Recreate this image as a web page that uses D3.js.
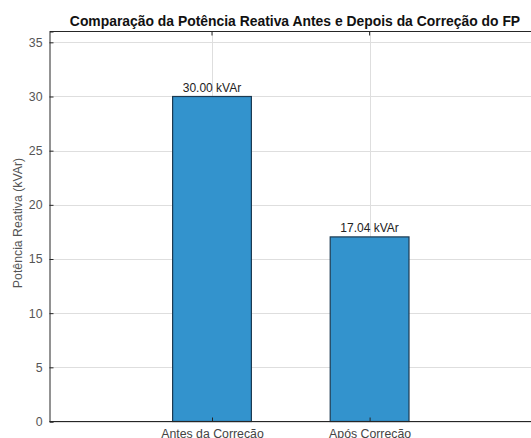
<!DOCTYPE html>
<html><head><meta charset="utf-8">
<script src="https://cdn.jsdelivr.net/npm/d3@7"></script>
<style>body{margin:0;background:#fff;} svg{display:block;}</style>
</head><body>
<script>
const categories = ["Antes da Correção", "Após Correção"];
const values = [30.00, 17.04];
const yTicks = [0, 5, 10, 15, 20, 25, 30, 35];
const title = "Comparação da Potência Reativa Antes e Depois da Correção do FP";
const yLabel = "Potência Reativa (kVAr)";

const W = 531, H = 438;
const svg = d3.select("body").append("svg").attr("width", W).attr("height", H);
const pLeft = 49.5, pTop = 31.5, pBottom = 421.5;
const x = d3.scaleLinear().domain([1, 2]).range([212, 369.6]);
const y = d3.scaleLinear().domain([0, 36]).range([pBottom, pTop]);
const font = "Liberation Sans, Arial, sans-serif";

// grid
svg.append("g").selectAll("line").data(yTicks).join("line")
  .attr("x1", pLeft).attr("x2", W).attr("y1", d => Math.round(y(d)) + 0.5).attr("y2", d => Math.round(y(d)) + 0.5)
  .attr("stroke", "#dedede").attr("stroke-width", 1);
svg.append("g").selectAll("line").data(categories).join("line")
  .attr("x1", (d, i) => Math.round(x(i + 1)) + 0.5).attr("x2", (d, i) => Math.round(x(i + 1)) + 0.5)
  .attr("y1", pTop).attr("y2", pBottom)
  .attr("stroke", "#dedede").attr("stroke-width", 1);

// bars
const bw = x(1.25) - x(0.75);
svg.append("g").selectAll("rect").data(values).join("rect")
  .attr("x", (d, i) => x(i + 1) - bw / 2)
  .attr("y", d => y(d))
  .attr("width", bw)
  .attr("height", d => pBottom - y(d))
  .attr("fill", "#3393cd").attr("stroke", "#1c3a52").attr("stroke-width", 1.2);

// axes
const yAxis = d3.axisLeft(y).tickValues(yTicks).tickSize(-4).tickPadding(7).tickFormat(d3.format("d"));
const gy = svg.append("g").attr("transform", `translate(${pLeft},0)`).call(yAxis);
gy.select(".domain").attr("stroke", "#262626");
gy.selectAll(".tick line").attr("stroke", "#262626");
gy.selectAll("text").attr("font-family", font).attr("font-size", 12.3).attr("fill", "#555");

const xAxis = d3.axisBottom(x).tickValues([1, 2]).tickSize(-4).tickPadding(8).tickFormat(d => categories[d - 1]);
const gx = svg.append("g").attr("transform", `translate(0,${pBottom})`).call(xAxis);
gx.select(".domain").attr("stroke", "#262626").attr("d", `M${pLeft},0H${W}`);
gx.selectAll(".tick line").attr("stroke", "#262626");
gx.selectAll("text").attr("font-family", font).attr("font-size", 12.3).attr("fill", "#444");

// top border
svg.append("line").attr("x1", pLeft).attr("x2", W).attr("y1", pTop).attr("y2", pTop).attr("stroke", "#262626");
svg.append("g").selectAll("line").data([1, 2]).join("line")
  .attr("x1", d => x(d)).attr("x2", d => x(d)).attr("y1", pTop).attr("y2", pTop + 4).attr("stroke", "#262626");

// value labels
svg.append("g").selectAll("text").data(values).join("text")
  .attr("x", (d, i) => x(i + 1)).attr("y", d => y(d) - 5)
  .attr("text-anchor", "middle").attr("font-family", font).attr("font-size", 12).attr("fill", "#222")
  .text(d => d.toFixed(2) + " kVAr");

// title
svg.append("text").attr("x", 295).attr("y", 26)
  .attr("text-anchor", "middle").attr("font-family", font).attr("font-size", 13.9).attr("font-weight", "bold")
  .attr("fill", "#111").text(title);

// y label
svg.append("text").attr("transform", `translate(22,${223}) rotate(-90)`)
  .attr("text-anchor", "middle").attr("font-family", font).attr("font-size", 12.3).attr("fill", "#555")
  .text(yLabel);
</script>
</body></html>
